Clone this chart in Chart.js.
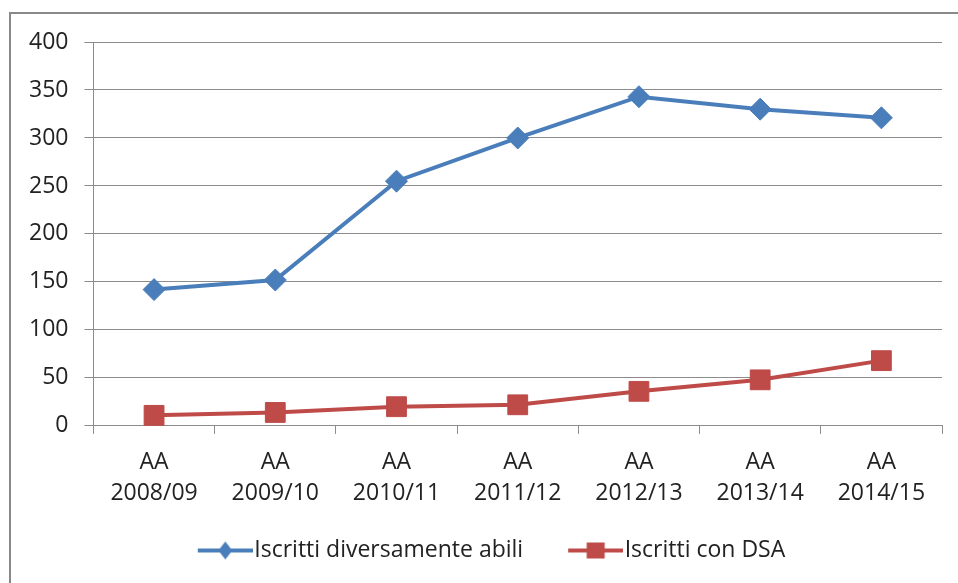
<!DOCTYPE html>
<html>
<head>
<meta charset="utf-8">
<script src="https://cdn.jsdelivr.net/npm/chart.js@4.4.1/dist/chart.umd.min.js"></script>
<style>
  html, body { margin: 0; padding: 0; background: #fff; overflow: hidden; }
  #wrap { position: relative; width: 958px; height: 583px; }
  #frame {
    position: absolute; left: 9px; top: 12px; width: 1000px; height: 620px;
    border-left: 2px solid #898989; border-top: 2px solid #898989;
  }
  canvas { position: absolute; left: 0; top: 0; }
</style>
</head>
<body>
<div id="wrap">
  <div id="frame"></div>
  <canvas id="chart" width="958" height="583"></canvas>
</div>
<script>
const years = ['2008/09', '2009/10', '2010/11', '2011/12', '2012/13', '2013/14', '2014/15'];
const disabledStudents = [142, 152, 255, 300, 343, 330, 321];
const dsaStudents = [11, 14, 20, 22, 36, 48, 68];
const seriesNames = ['Iscritti diversamente abili', 'Iscritti con DSA'];

const blue = '#4A7EBB';
const red = '#BE4B48';
const gray = '#8c8c8c';
const textColor = '#222';
const fontFamily = "'Open Sans', sans-serif";
const fontSize = 23;

// legend icon: line with the marker in the middle; the empty left part
// of the image gives Excel's wide gap between the two entries
function legendIcon(color, marker) {
    const c = document.createElement('canvas');
    c.width = 93;
    c.height = 24;
    const g = c.getContext('2d');
    g.strokeStyle = color;
    g.lineWidth = 4;
    g.beginPath();
    g.moveTo(38, 12);
    g.lineTo(93, 12);
    g.stroke();
    g.fillStyle = color;
    g.beginPath();
    if (marker === 'diamond') {
        g.moveTo(65.5, 3);
        g.lineTo(72.5, 12);
        g.lineTo(65.5, 21);
        g.lineTo(58.5, 12);
        g.closePath();
    } else {
        g.rect(56.5, 4, 18, 16);
    }
    g.fill();
    return c;
}

const icons = [legendIcon(blue, 'diamond'), legendIcon(red, 'square')];

const ctx = document.getElementById('chart').getContext('2d');

new Chart(ctx, {
    type: 'line',
    data: {
        labels: years.map(y => ['AA', y]),
        datasets: [{
            label: seriesNames[0],
            data: disabledStudents,
            borderColor: blue,
            backgroundColor: blue,
            borderWidth: 4,
            pointStyle: 'rectRot',
            pointRadius: 11,
            pointBorderWidth: 1,
            pointHoverRadius: 11,
            tension: 0,
            fill: false
        }, {
            label: seriesNames[1],
            data: dsaStudents,
            borderColor: red,
            backgroundColor: red,
            borderWidth: 4,
            pointStyle: 'rect',
            pointRadius: 14,
            pointBorderWidth: 1,
            pointHoverRadius: 14,
            tension: 0,
            fill: false
        }]
    },
    options: {
        responsive: false,
        animation: false,
        layout: {
            padding: { left: 13, right: 16, top: 42, bottom: 11 }
        },
        plugins: {
            tooltip: { enabled: false },
            legend: {
                position: 'bottom',
                labels: {
                    usePointStyle: true,
                    pointStyleWidth: 73,
                    padding: 17,
                    color: textColor,
                    font: { family: fontFamily, size: fontSize },
                    generateLabels: (chart) => chart.data.datasets.map((ds, i) => ({
                        text: ds.label,
                        pointStyle: icons[i],
                        fontColor: textColor,
                        datasetIndex: i,
                        hidden: false,
                        lineWidth: 0
                    }))
                }
            }
        },
        scales: {
            x: {
                offset: true,
                grid: {
                    offset: true,
                    drawOnChartArea: false,
                    drawTicks: true,
                    tickLength: 8,
                    color: gray
                },
                border: { display: true, color: gray, width: 1 },
                ticks: {
                    color: textColor,
                    padding: 13,
                    maxRotation: 0,
                    font: { family: fontFamily, size: fontSize, lineHeight: 1.35 }
                }
            },
            y: {
                min: 0,
                max: 400,
                grid: {
                    color: gray,
                    lineWidth: 1,
                    drawTicks: true,
                    tickLength: 9
                },
                border: { display: true, color: gray, width: 1 },
                ticks: {
                    stepSize: 50,
                    color: textColor,
                    padding: 16,
                    font: { family: fontFamily, size: fontSize }
                }
            }
        }
    }
});
</script>
</body>
</html>
